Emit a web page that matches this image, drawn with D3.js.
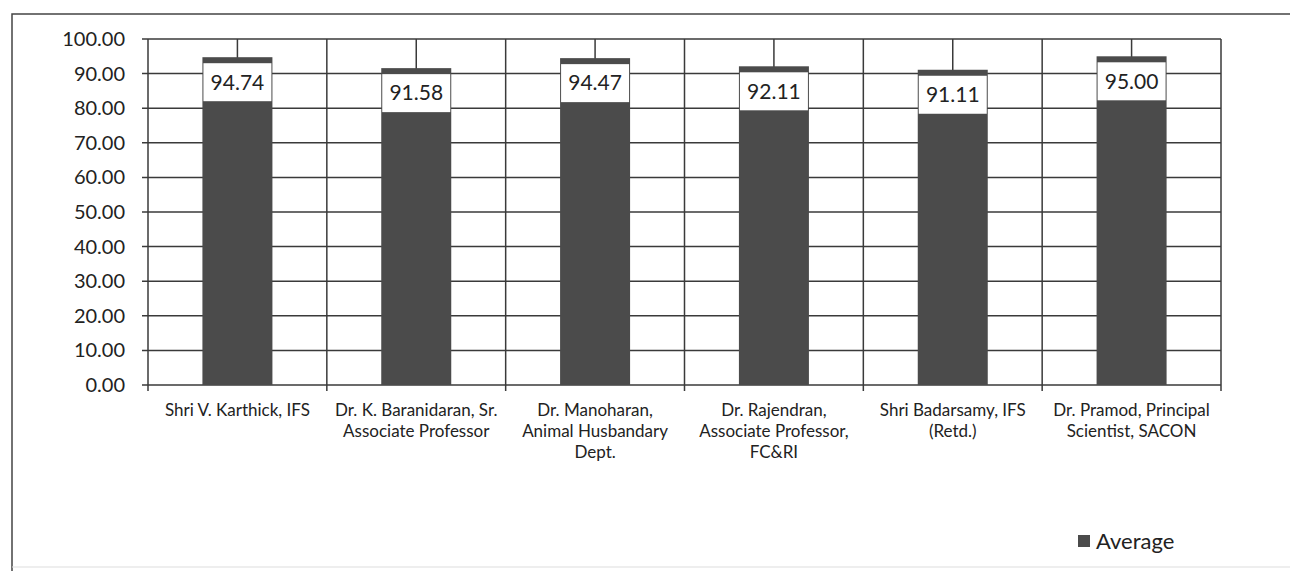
<!DOCTYPE html>
<html>
<head>
<meta charset="utf-8">
<script src="https://cdn.jsdelivr.net/npm/d3@7"></script>
<style>
  body { margin: 0; background: #fff; }
  svg { display: block; font-family: Lato, "Open Sans", sans-serif; }
  .grid line { stroke: #3a3a3a; stroke-width: 1.5; }
</style>
</head>
<body>
<svg id="chart" width="1290" height="571"></svg>
<script>
var categories = [
    ['Shri V. Karthick, IFS'],
    ['Dr. K. Baranidaran, Sr.', 'Associate Professor'],
    ['Dr. Manoharan,', 'Animal Husbandary', 'Dept.'],
    ['Dr. Rajendran,', 'Associate Professor,', 'FC&RI'],
    ['Shri Badarsamy, IFS', '(Retd.)'],
    ['Dr. Pramod, Principal', 'Scientist, SACON']
];
var averages = [94.74, 91.58, 94.47, 92.11, 91.11, 95.00];
var yTicks = [0, 10, 20, 30, 40, 50, 60, 70, 80, 90, 100];
var seriesName = 'Average';

var svg = d3.select('#chart');
var plotLeft = 148, plotRight = 1221, plotTop = 39, plotBottom = 385;

// frame
svg.append('path')
    .attr('d', 'M12,571 L12,14 L1290,14')
    .attr('fill', 'none')
    .attr('stroke', '#444')
    .attr('stroke-width', 1.5);
svg.append('line')
    .attr('x1', 12).attr('x2', 1290)
    .attr('y1', 567).attr('y2', 567)
    .attr('stroke', '#ddd');

var x = d3.scaleBand()
    .domain(d3.range(categories.length))
    .range([plotLeft, plotRight])
    .paddingInner(0)
    .paddingOuter(0);

var y = d3.scaleLinear().domain([0, 100]).range([plotBottom, plotTop]);

var grid = svg.append('g').classed('grid', true);

grid.selectAll('.h')
    .data(yTicks)
    .enter().append('line')
    .attr('x1', plotLeft - 6).attr('x2', plotRight)
    .attr('y1', function(d) { return y(d); })
    .attr('y2', function(d) { return y(d); });

// vertical lines at category edges and centres
var vx = [];
categories.forEach(function(c, i) {
    vx.push(x(i));
    vx.push(x(i) + x.bandwidth() / 2);
});
vx.push(plotRight);

grid.selectAll('.v')
    .data(vx)
    .enter().append('line')
    .attr('x1', function(d) { return d; })
    .attr('x2', function(d) { return d; })
    .attr('y1', plotTop)
    .attr('y2', function(d, i) { return i % 2 === 0 ? plotBottom + 6 : plotBottom; });

svg.append('g')
    .selectAll('text')
    .data(yTicks)
    .enter().append('text')
    .attr('x', 125)
    .attr('y', function(d) { return y(d); })
    .attr('dy', '0.35em')
    .attr('text-anchor', 'end')
    .style('font-size', '20px')
    .attr('fill', '#222')
    .text(function(d) { return d.toFixed(2); });

var barW = 70;
var bars = svg.append('g');

bars.selectAll('rect')
    .data(averages)
    .enter().append('rect')
    .attr('x', function(d, i) { return x(i) + x.bandwidth() / 2 - barW / 2; })
    .attr('y', function(d) { return y(d); })
    .attr('width', barW)
    .attr('height', function(d) { return plotBottom - y(d); })
    .attr('fill', '#4b4b4b');

var labels = svg.append('g');
labels.selectAll('rect')
    .data(averages)
    .enter().append('rect')
    .attr('x', function(d, i) { return x(i) + x.bandwidth() / 2 - barW / 2 + 1; })
    .attr('y', function(d) { return y(d) + 6; })
    .attr('width', barW - 2)
    .attr('height', 38)
    .attr('fill', '#fff');

labels.selectAll('text')
    .data(averages)
    .enter().append('text')
    .attr('x', function(d, i) { return x(i) + x.bandwidth() / 2; })
    .attr('y', function(d) { return y(d) + 25; })
    .attr('dy', '0.35em')
    .attr('text-anchor', 'middle')
    .style('font-size', '21px')
    .attr('fill', '#222')
    .text(function(d) { return d.toFixed(2); });

var xl = svg.append('g');
xl.selectAll('text')
    .data(categories)
    .enter().append('text')
    .attr('text-anchor', 'middle')
    .style('font-size', '17px')
    .attr('fill', '#222')
    .each(function(lines, i) {
        var t = d3.select(this);
        lines.forEach(function(s, j) {
            t.append('tspan')
                .attr('x', x(i) + x.bandwidth() / 2)
                .attr('y', 416 + j * 21)
                .text(s);
        });
    });

// legend
svg.append('rect')
    .attr('x', 1078).attr('y', 535)
    .attr('width', 12).attr('height', 12)
    .attr('fill', '#4b4b4b');
svg.append('text')
    .attr('x', 1096).attr('y', 541)
    .attr('dy', '0.35em')
    .style('font-size', '22px')
    .attr('fill', '#222')
    .text(seriesName);
</script>
</body>
</html>
